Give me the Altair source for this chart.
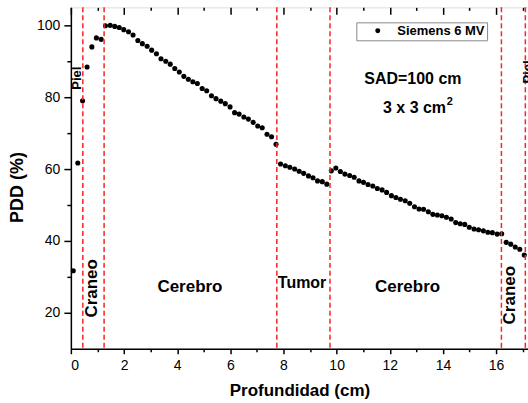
import altair as alt
import pandas as pd

# --- data ---
depth = [0.09, 0.26, 0.44, 0.61, 0.79, 0.96, 1.14, 1.30, 1.48, 1.65, 1.82, 1.99, 2.17, 2.34, 2.52,
         2.69, 2.87, 3.04, 3.22, 3.39, 3.57, 3.74, 3.91, 4.08, 4.25, 4.42, 4.59, 4.76, 4.94, 5.11,
         5.29, 5.46, 5.64, 5.81, 5.99, 6.16, 6.33, 6.51, 6.68, 6.86, 7.03, 7.20, 7.38, 7.55, 7.72,
         7.89, 8.07, 8.24, 8.42, 8.59, 8.76, 8.94, 9.11, 9.28, 9.46, 9.63, 9.80, 9.97, 10.14, 10.31,
         10.49, 10.66, 10.84, 11.01, 11.18, 11.36, 11.53, 11.71, 11.88, 12.06, 12.23, 12.40, 12.58,
         12.75, 12.93, 13.10, 13.27, 13.45, 13.62, 13.79, 13.96, 14.13, 14.31, 14.48, 14.65, 14.82,
         14.99, 15.17, 15.34, 15.52, 15.69, 15.86, 16.04, 16.21, 16.38, 16.55, 16.72, 16.89, 17.06]
pdd = [31.7, 61.7, 79.0, 88.4, 94.0, 96.5, 96.1, 99.9, 100.0, 99.7, 99.4, 98.8, 98.2, 97.3, 95.8,
       94.9, 94.2, 93.1, 92.1, 90.7, 90.0, 89.2, 88.0, 87.0, 85.8, 85.0, 84.3, 83.8, 82.4, 81.8,
       80.4, 79.6, 78.9, 78.2, 77.3, 75.7, 75.3, 74.5, 73.9, 73.0, 72.0, 71.5, 69.7, 69.0, 66.9,
       61.4, 60.9, 60.5, 60.0, 59.4, 58.8, 58.1, 57.6, 56.7, 56.5, 55.8, 59.5, 60.3, 59.3, 58.6,
       58.2, 57.7, 56.7, 56.3, 55.7, 55.3, 54.6, 54.2, 53.5, 52.6, 52.1, 51.6, 51.2,
       50.5, 49.5, 48.9, 48.8, 48.1, 47.4, 47.2, 47.0, 46.6, 46.1, 45.1, 44.8, 44.6,
       43.8, 43.3, 43.1, 42.8, 42.4, 42.3, 41.9, 42.0, 39.6, 39.1, 38.3, 37.7, 36.1]
series_name = "Siemens 6 MV"

boundaries = [0.45, 1.25, 7.75, 9.75, 16.2, 17.1]

rot_labels = ["Piel", "Craneo", "Craneo", "Piel"]
rot_x = [0.24, 0.79, 16.53, 17.2]
rot_y = [85.3, 26.8, 24.9, 87.0]
rot_fs = [13, 17, 17, 13]

reg_labels = ["Cerebro", "Tumor", "Cerebro"]
reg_x = [4.48, 8.70, 12.67]
reg_y = [27.2, 28.3, 27.1]
reg_fs = [17, 16, 17]

info_labels = ["SAD=100 cm", "3 x 3 cm"]
info_x = [12.87, 12.93]
info_y = [85.2, 76.9]
sup_label = ["2"]
sup_x = [14.26]
sup_y = [78.7]

x_major = [0, 2, 4, 6, 8, 10, 12, 14, 16]
x_minor = [1, 3, 5, 7, 9, 11, 13, 15, 17]
y_major = [20, 40, 60, 80, 100]
y_minor = [30, 50, 70, 90]

FONT = "Liberation Sans"

df = pd.DataFrame({"x": depth, "y": pdd, "series": series_name})
bdf = pd.DataFrame({"x": boundaries})
rdf = pd.DataFrame({"t": rot_labels, "x": rot_x, "y": rot_y, "fs": rot_fs})
gdf = pd.DataFrame({"t": reg_labels, "x": reg_x, "y": reg_y, "fs": reg_fs})
idf = pd.DataFrame({"t": info_labels, "x": info_x, "y": info_y})
sdf = pd.DataFrame({"t": sup_label, "x": sup_x, "y": sup_y})

xs = alt.Scale(domain=[0, 17.2], nice=False, zero=False)
ys = alt.Scale(domain=[10, 105], nice=False, zero=False)

common_axis = dict(domainColor="black", tickColor="black", domainWidth=1.5, tickWidth=1.5,
                   grid=False, labelFont=FONT, labelColor="black", labelFontSize=14)

points = alt.Chart(df).mark_circle(size=26, opacity=1).encode(
    x=alt.X("x:Q", scale=xs, axis=alt.Axis(values=x_major, tickSize=5, labelPadding=5,
                                            title="Profundidad (cm)", titleFont=FONT, titleFontSize=17,
                                            titleFontWeight="bold", titleColor="black",
                                            titleY=42, titleBaseline="middle", format="d",
                                            **common_axis)),
    y=alt.Y("y:Q", scale=ys, axis=alt.Axis(values=y_major, tickSize=7, labelPadding=4,
                                            title="PDD (%)", titleFont=FONT, titleFontSize=18,
                                            titleFontWeight="bold", titleColor="black",
                                            titleX=-53, titleY=180, titleAngle=270,
                                            titleAlign="center", titleBaseline="middle",
                                            **common_axis)),
    color=alt.Color("series:N", scale=alt.Scale(range=["black"]),
                    legend=alt.Legend(title=None, orient="none", legendX=286, legendY=15,
                                      symbolType="circle", symbolSize=25, symbolFillColor="black",
                                      symbolStrokeWidth=0, labelFont=FONT, labelFontSize=13,
                                      labelFontWeight="bold", labelColor="black",
                                      strokeColor="#888888", padding=2, symbolOffset=13,
                                      labelOffset=13, cornerRadius=0)),
)

rules = alt.Chart(bdf).mark_rule(color="#ff2020", strokeWidth=1.5, strokeDash=[5, 3]).encode(
    x=alt.X("x:Q", scale=xs, axis=alt.Axis(orient="bottom", values=x_minor, tickSize=3,
                                            labels=False, domain=False, title=None, **common_axis)),
)

rot_text = alt.Chart(rdf).mark_text(angle=270, font=FONT, fontWeight="bold", color="black",
                                    align="center", baseline="middle").encode(
    x=alt.X("x:Q", scale=xs, axis=alt.Axis(orient="top", values=x_major, tickSize=7, offset=-7,
                                            labels=False, domain=False, title=None, **common_axis)),
    y=alt.Y("y:Q", scale=ys, axis=alt.Axis(orient="left", values=y_minor, tickSize=4,
                                            labels=False, domain=False, title=None, **common_axis)),
    text="t:N",
    size=alt.Size("fs:Q", scale=None),
)

reg_text = alt.Chart(gdf).mark_text(font=FONT, fontWeight="bold", color="black",
                                    align="center", baseline="middle").encode(
    x=alt.X("x:Q", scale=xs, axis=alt.Axis(orient="top", values=x_minor, tickSize=3, offset=-3,
                                            labels=False, domain=False, title=None, **common_axis)),
    y=alt.Y("y:Q", scale=ys, axis=None),
    text="t:N",
    size=alt.Size("fs:Q", scale=None),
)

info_text = alt.Chart(idf).mark_text(font=FONT, fontWeight="bold", color="black", fontSize=16,
                                     align="center", baseline="middle").encode(
    x=alt.X("x:Q", scale=xs, axis=None),
    y=alt.Y("y:Q", scale=ys, axis=None),
    text="t:N",
)

sup_text = alt.Chart(sdf).mark_text(font=FONT, fontWeight="bold", color="black", fontSize=11,
                                    align="center", baseline="middle").encode(
    x=alt.X("x:Q", scale=xs, axis=None),
    y=alt.Y("y:Q", scale=ys, axis=None),
    text="t:N",
)

chart = alt.layer(points, rules, rot_text, reg_text, info_text, sup_text).resolve_axis(
    x="independent", y="independent"
).properties(
    width=458, height=342,
    autosize=alt.AutoSizeParams(type="none"),
    padding={"left": 71, "top": 7, "right": 0, "bottom": 54},
).configure_view(stroke="black", strokeWidth=1.5).configure(background="white")

chart.save("out.html", embed_options={"renderer": "svg", "actions": False})
